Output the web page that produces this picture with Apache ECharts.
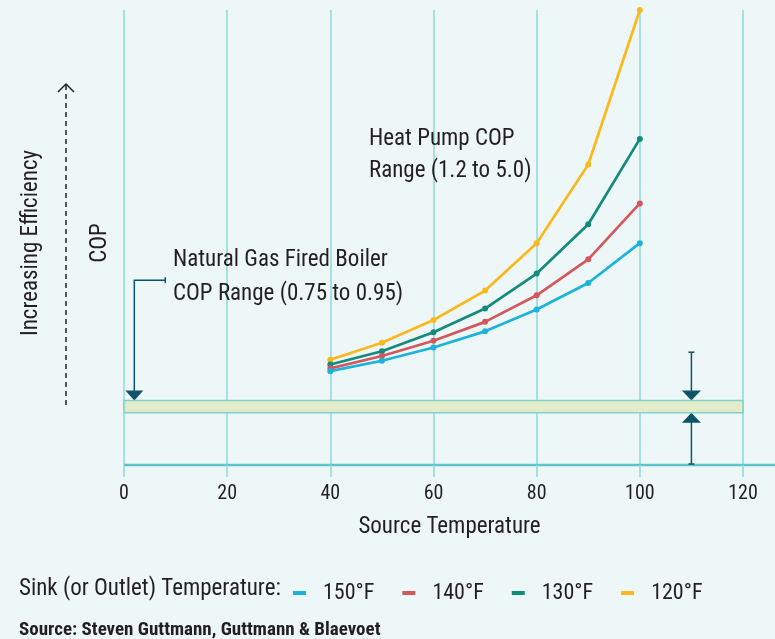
<!DOCTYPE html>
<html>
<head>
<meta charset="utf-8">
<script src="https://cdn.jsdelivr.net/npm/echarts@6/dist/echarts.min.js"></script>
<style>
  html, body { margin: 0; padding: 0; background: #eef7f7; }
  #chart { width: 775px; height: 639px; }
</style>
</head>
<body>
<div id="chart"></div>
<script>
// source temperature (x) and COP per sink temperature
const sourceTemps = [40, 50, 60, 70, 80, 90, 100];
const cop150 = [1.19, 1.30, 1.44, 1.61, 1.84, 2.12, 2.54];
const cop140 = [1.22, 1.35, 1.51, 1.71, 1.99, 2.37, 2.96];
const cop130 = [1.26, 1.40, 1.60, 1.85, 2.22, 2.74, 3.64];
const cop120 = [1.31, 1.49, 1.73, 2.04, 2.54, 3.37, 5.00];
const seriesNames = ['150°F', '140°F', '130°F', '120°F'];
const xTicks = [0, 20, 40, 60, 80, 100, 120];

// boiler band + pointers (data units)
const boilerBand = [0.75, 0.88];
const rangeArrowX = 110;
const rangeArrowTop = 1.39;
const rangeArrowBottom = 0.21;
const boilerPointer = [[8, 2.15], [2, 2.15], [2, 0.88]];

const FONT = '"Roboto Condensed", "Liberation Sans Narrow", "DejaVu Sans Condensed", Roboto, sans-serif';
const TEXT = '#231f20';
const DARK = '#0e5468';
const colors = {
  '150°F': '#1cb3da',
  '140°F': '#d2585e',
  '130°F': '#138a7b',
  '120°F': '#fbb81c'
};

const zip = (xs, ys) => xs.map((x, i) => [x, ys[i]]);

const lineSeries = (name, values) => ({
  name,
  type: 'line',
  data: zip(sourceTemps, values),
  symbol: 'circle',
  symbolSize: 6,
  lineStyle: { color: colors[name], width: 2.7 },
  itemStyle: { color: colors[name] },
  emphasis: { disabled: true },
  z: 3
});

const chart = echarts.init(document.getElementById('chart'));

const option = {
  animation: false,
  backgroundColor: '#eef7f7',
  grid: { left: 124, right: 32, top: 10, bottom: 174 },
  legend: {
    data: seriesNames,
    left: 288,
    top: 577,
    icon: 'rect',
    itemWidth: 13,
    itemHeight: 4,
    itemGap: 28,
    textStyle: { fontSize: 22, fontFamily: FONT, color: TEXT, padding: [0, 0, 0, 12] }
  },
  xAxis: {
    type: 'value',
    min: xTicks[0],
    max: xTicks[xTicks.length - 1],
    interval: 20,
    name: 'Source Temperature',
    nameLocation: 'middle',
    nameGap: 51,
    nameTextStyle: { fontSize: 23, fontFamily: FONT, color: TEXT, padding: [0, 0, 0, 32] },
    axisLine: { show: false },
    axisTick: { show: true, length: 12, lineStyle: { color: '#8fd8d8', width: 1.5 } },
    axisLabel: { fontSize: 20, fontFamily: FONT, color: TEXT, margin: 19 },
    splitLine: { show: true, lineStyle: { color: '#8fd8d8', width: 1.5 } }
  },
  yAxis: {
    type: 'value',
    min: 0.2,
    max: 5.0,
    axisLine: { show: false },
    axisTick: { show: false },
    axisLabel: { show: false },
    splitLine: { show: false }
  },
  series: [
    Object.assign(lineSeries('120°F', cop120), {
      markArea: {
        silent: true,
        itemStyle: { color: '#e2ecca', borderColor: '#80d2ca', borderWidth: 1.5 },
        data: [[{ coord: [xTicks[0], boilerBand[0]] }, { coord: [xTicks[xTicks.length - 1], boilerBand[1]] }]]
      }
    }),
    lineSeries('130°F', cop130),
    lineSeries('140°F', cop140),
    lineSeries('150°F', cop150)
  ]
};

chart.setOption(option);

// annotations positioned through the chart's own scales
const px = (x, y) => chart.convertToPixel({ gridIndex: 0 }, [x, y]);
const text = (str, x, y, size, opts) => {
  opts = opts || {};
  return {
    type: 'text', x, y,
    rotation: opts.rotation || 0,
    style: {
      text: str, fontSize: size, fontFamily: FONT, fontWeight: opts.weight || 'normal',
      fill: TEXT, align: opts.align || 'left', verticalAlign: 'middle'
    }
  };
};
const line = (a, b, color, width, dash) => ({
  type: 'line',
  shape: { x1: a[0], y1: a[1], x2: b[0], y2: b[1] },
  style: { stroke: color, lineWidth: width, lineDash: dash || null }
});
const tri = (pts) => ({ type: 'polygon', shape: { points: pts }, style: { fill: DARK } });

const base0 = px(xTicks[0], 0.2);
const graphics = [];

// bottom baseline runs to the right edge
graphics.push(line([base0[0], base0[1]], [775, base0[1]], '#5cc6c6', 2.5));

// left titles
graphics.push(text('Increasing Efficiency', 31, 243, 23, { rotation: Math.PI / 2, align: 'center' }));
graphics.push(text('COP', 100, 243, 23, { rotation: Math.PI / 2, align: 'center' }));

// dashed efficiency arrow
graphics.push(line([66, 405], [66, 84], '#222', 1.5, [5, 4]));
graphics.push({ type: 'polyline', shape: { points: [[58, 92], [66, 84], [74, 92]] }, style: { stroke: '#222', lineWidth: 1.5, fill: null } });

// heat pump label
graphics.push(text('Heat Pump COP', 369, 139, 23));
graphics.push(text('Range (1.2 to 5.0)', 369, 171, 23));

// boiler label and pointer
graphics.push(text('Natural Gas Fired Boiler', 173, 260, 23));
graphics.push(text('COP Range (0.75 to 0.95)', 173, 294, 23));
const bp = boilerPointer.map(p => px(p[0], p[1]));
graphics.push({ type: 'polyline', shape: { points: [bp[0], bp[1], [bp[2][0], bp[2][1] - 9]] }, style: { stroke: DARK, lineWidth: 1.5, fill: null } });
graphics.push(line([bp[0][0], bp[0][1] - 3], [bp[0][0], bp[0][1] + 3], DARK, 1.5));
graphics.push(tri([[bp[2][0] - 9, bp[2][1] - 10], [bp[2][0] + 9, bp[2][1] - 10], [bp[2][0], bp[2][1]]]));

// band range arrows on the right
const rTop = px(rangeArrowX, rangeArrowTop);
const rHi = px(rangeArrowX, boilerBand[1]);
const rLo = px(rangeArrowX, boilerBand[0]);
const rBot = px(rangeArrowX, rangeArrowBottom);
graphics.push(line(rTop, [rHi[0], rHi[1] - 9], DARK, 1.5));
graphics.push(line([rTop[0] - 3, rTop[1]], [rTop[0] + 3, rTop[1]], DARK, 1.5));
graphics.push(tri([[rHi[0] - 9.5, rHi[1] - 10], [rHi[0] + 9.5, rHi[1] - 10], [rHi[0], rHi[1]]]));
graphics.push(line([rLo[0], rLo[1] + 9], rBot, DARK, 1.5));
graphics.push(line([rBot[0] - 3, rBot[1]], [rBot[0] + 3, rBot[1]], DARK, 1.5));
graphics.push(tri([[rLo[0] - 9.5, rLo[1] + 10], [rLo[0] + 9.5, rLo[1] + 10], [rLo[0], rLo[1]]]));

// legend prefix and source
graphics.push(text('Sink (or Outlet) Temperature:', 19, 589, 23));
graphics.push(text('Source: Steven Guttmann, Guttmann & Blaevoet', 19, 630, 19, { weight: 'bold' }));

chart.setOption({ graphic: graphics });
</script>
</body>
</html>
